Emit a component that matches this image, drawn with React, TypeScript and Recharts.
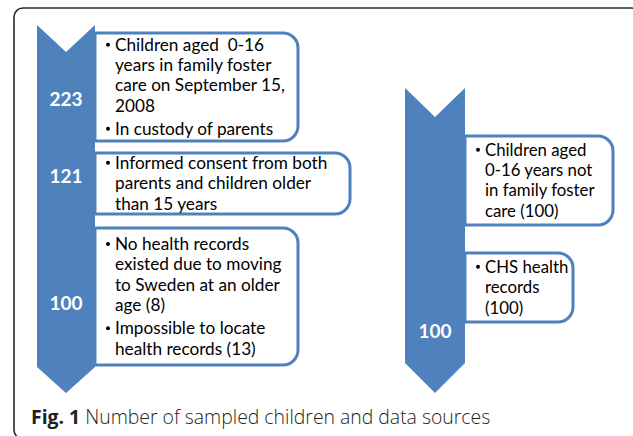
import React from "react";
import { ComposedChart, XAxis, YAxis, ReferenceArea, ReferenceDot } from "recharts";

// ---------- content ----------
const stageCounts = [223, 121, 100];
const stageNotes: string[][][] = [
  [["Children aged  0-16", "years in family foster", "care on September 15,", "2008"], ["In custody of parents"]],
  [["Informed consent from both", "parents and children older", "than 15 years"]],
  [["No health records", "existed due to moving", "to Sweden at an older", "age (8)"], ["Impossible to locate", "health records (13)"]],
];
const controlCount = 100;
const controlNotes: string[][][] = [
  [["Children aged", "0-16 years not", "in family foster", "care (100)"]],
  [["CHS health", "records", "(100)"]],
];
const captionLabel = "Fig. 1";
const captionText = "Number of sampled children and data sources";

// ---------- layout / style ----------
const W = 633;
const H = 436;
const BLUE = "#4F81BD";
const BODY_FONT = "Lato, 'Open Sans', sans-serif";
const CAPTION_FONT = "'Open Sans', Lato, sans-serif";
const LINE = 20.4;
const PARA = 2.6;
const CAP = 11.5;

const leftColumn = { x1: 37, x2: 95, y1: 25, y2: 367, notch: 27, tip: 26 };
const rightColumn = { x1: 405, x2: 465, y1: 88, y2: 363, notch: 29, tip: 30 };
const stageBoxes = [
  { x2: 298, y1: 33, y2: 141 },
  { x2: 350, y1: 153, y2: 214 },
  { x2: 298, y1: 228, y2: 365 },
];
const stageCountY = [98.5, 175, 302.5];
const controlBoxes = [
  { x2: 613, y1: 136, y2: 225 },
  { x2: 573, y1: 253, y2: 322 },
];
const controlCountY = 330;

const chevron = (notch: number, tip: number) => (p: any) => {
  const { x, y, width: w, height: h } = p;
  const d = `M${x},${y} L${x + w / 2},${y + notch} L${x + w},${y} L${x + w},${y + h} L${x + w / 2},${y + h + tip} L${x},${y + h} Z`;
  return <path d={d} fill={BLUE} />;
};

const noteBox = (paragraphs: string[][], textDx: number, fontSize: number) => (p: any) => {
  const { x, y, width: w, height: h } = p;
  const r = 15;
  const d = `M${x},${y} H${x + w - r} A${r},${r} 0 0 1 ${x + w},${y + r} V${y + h - r} A${r},${r} 0 0 1 ${x + w - r},${y + h} H${x} Z`;
  const n = paragraphs.reduce((s, q) => s + q.length, 0);
  const blockH = CAP + (n - 1) * LINE + (paragraphs.length - 1) * PARA;
  let base = y + h / 2 - blockH / 2 + CAP;
  const items: React.ReactNode[] = [];
  paragraphs.forEach((para, pi) => {
    if (pi > 0) base += PARA;
    para.forEach((line, li) => {
      if (li === 0) {
        items.push(
          <circle key={`b${pi}`} cx={x + textDx - 7} cy={base - 6} r={2} fill="#000" />
        );
      }
      items.push(
        <text key={`t${pi}-${li}`} x={x + textDx} y={base} fontSize={fontSize} fontFamily={BODY_FONT} fill="#000" style={{ whiteSpace: "pre" }}>
          {line}
        </text>
      );
      base += LINE;
    });
  });
  return (
    <g>
      <path d={d} fill="#fff" stroke={BLUE} strokeWidth={3} />
      {items}
    </g>
  );
};

const countLabel = (value: number) => (p: any) => (
  <text x={p.cx} y={p.cy} textAnchor="middle" dominantBaseline="central" fontSize={19} fontWeight="bold" fontFamily={BODY_FONT} fill="#fff">
    {value}
  </text>
);

const frameShape = (p: any) => (
  <rect x={p.x} y={p.y} width={p.width} height={p.height} rx={9} ry={9} fill="#fff" stroke="#2a2a2a" strokeWidth={1.6} />
);

const captionShape = (p: any) => (
  <text x={p.cx} y={p.cy} fontSize={19.4} fontFamily={CAPTION_FONT} fill="#231f20">
    <tspan fontWeight="bold">{captionLabel}</tspan>
    <tspan fontWeight={300}>{" " + captionText}</tspan>
  </text>
);

export default function App() {
  return (
    <div style={{ position: "absolute", left: 0, top: 0, width: W, height: H, background: "#fff", overflow: "hidden" }}>
      <ComposedChart width={W} height={H} margin={{ top: 0, right: 0, bottom: 0, left: 0 }} data={[{ x: 0, y: 0 }]}>
        <XAxis type="number" dataKey="x" domain={[0, W]} hide allowDataOverflow />
        <YAxis type="number" dataKey="y" domain={[0, H]} reversed hide allowDataOverflow />
        <ReferenceArea x1={14} x2={640} y1={8} y2={439} shape={frameShape} ifOverflow="visible" />
        {stageBoxes.map((b, i) => (
          <ReferenceArea key={`sb${i}`} x1={leftColumn.x2} x2={b.x2} y1={b.y1} y2={b.y2} shape={noteBox(stageNotes[i], 20, 17.2)} ifOverflow="visible" />
        ))}
        {controlBoxes.map((b, i) => (
          <ReferenceArea key={`cb${i}`} x1={rightColumn.x2} x2={b.x2} y1={b.y1} y2={b.y2} shape={noteBox(controlNotes[i], 20, 16.8)} ifOverflow="visible" />
        ))}
        <ReferenceArea x1={leftColumn.x1} x2={leftColumn.x2} y1={leftColumn.y1} y2={leftColumn.y2} shape={chevron(leftColumn.notch, leftColumn.tip)} ifOverflow="visible" />
        <ReferenceArea x1={rightColumn.x1} x2={rightColumn.x2} y1={rightColumn.y1} y2={rightColumn.y2} shape={chevron(rightColumn.notch, rightColumn.tip)} ifOverflow="visible" />
        {stageCounts.map((c, i) => (
          <ReferenceDot key={`sc${i}`} x={(leftColumn.x1 + leftColumn.x2) / 2} y={stageCountY[i]} r={0} shape={countLabel(c)} ifOverflow="visible" />
        ))}
        <ReferenceDot x={(rightColumn.x1 + rightColumn.x2) / 2} y={controlCountY} r={0} shape={countLabel(controlCount)} ifOverflow="visible" />
        <ReferenceDot x={31} y={424} r={0} shape={captionShape} ifOverflow="visible" />
      </ComposedChart>
    </div>
  );
}
